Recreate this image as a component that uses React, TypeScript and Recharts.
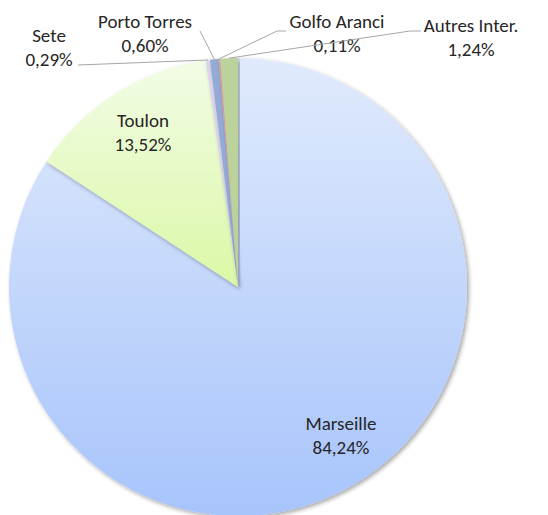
import React from 'react';
import { PieChart, Pie, Cell } from 'recharts';

// Port share of traffic (%)
const ports = ['Marseille', 'Toulon', 'Sete', 'Porto Torres', 'Golfo Aranci', 'Autres Inter.'];
const shares = [84.24, 13.52, 0.29, 0.6, 0.11, 1.24];

const fills = ['url(#gradMarseille)', 'url(#gradToulon)', '#ddd7ee', '#94abd6', '#e8999a', '#bcd29b'];

const data = ports.map((name, i) => ({ name, value: shares[i] }));

// label placement relative to the pie centre: two text lines, optional leader line
type LabelPos = { dx: number; dy: number; line?: [number, number][] };
const labelPos: Record<string, LabelPos> = {
  Marseille: { dx: 103, dy: 136 },
  Toulon: { dx: -95, dy: -167 },
  Sete: { dx: -189, dy: -252, line: [[-160, -222]] },
  'Porto Torres': { dx: -93, dy: -266, line: [[-38, -256]] },
  'Golfo Aranci': { dx: 99, dy: -266, line: [[48, -256], [39, -256]] },
  'Autres Inter.': { dx: 233, dy: -262, line: [[183, -256], [172, -256]] },
};

const RAD = Math.PI / 180;
const fmt = (v: number) => v.toFixed(2).replace('.', ',') + '%';

const renderLabel = (props: any) => {
  const { cx, cy, midAngle, outerRadius, name, value } = props;
  const pos = labelPos[name];
  if (!pos) return null;
  const x = cx + pos.dx;
  const y = cy + pos.dy;
  let line = null;
  if (pos.line) {
    const pts = pos.line.map(([a, b]) => [cx + a, cy + b]);
    const ex = cx + outerRadius * Math.cos(-midAngle * RAD);
    const ey = cy + outerRadius * Math.sin(-midAngle * RAD);
    pts.push([ex, ey]);
    line = (
      <polyline
        points={pts.map((p) => p.join(',')).join(' ')}
        fill="none"
        stroke="#a6a6a6"
        strokeWidth={1}
      />
    );
  }
  return (
    <g key={name}>
      {line}
      <text x={x} y={y} textAnchor="middle" dominantBaseline="central" fill="#262626" fontSize={19}>
        {name}
      </text>
      <text x={x} y={y + 24} textAnchor="middle" dominantBaseline="central" fill="#262626" fontSize={19}>
        {fmt(value)}
      </text>
    </g>
  );
};

export default function App() {
  return (
    <div style={{ position: 'absolute', left: 0, top: 0, width: 548, height: 515, background: '#fff', fontFamily: "Carlito, 'Open Sans', sans-serif" }}>
      <PieChart width={548} height={515} margin={{ top: 0, right: 0, bottom: 0, left: 0 }}>
        <defs>
          <linearGradient id="gradMarseille" x1="0" y1="0" x2="0" y2="1">
            <stop offset="0%" stopColor="#e0eafc" />
            <stop offset="100%" stopColor="#a7c4fb" />
          </linearGradient>
          <linearGradient id="gradToulon" x1="0" y1="0" x2="0" y2="1">
            <stop offset="0%" stopColor="#f2fce6" />
            <stop offset="100%" stopColor="#dbf8a6" />
          </linearGradient>
          <filter id="pieShadow" x="-10%" y="-10%" width="120%" height="120%">
            <feDropShadow dx="2" dy="2" stdDeviation="2" floodColor="#000" floodOpacity="0.35" />
          </filter>
        </defs>
        <Pie
          data={data}
          dataKey="value"
          nameKey="name"
          cx={238}
          cy={287}
          outerRadius={229}
          startAngle={90}
          endAngle={-270}
          stroke="none"
          label={renderLabel}
          labelLine={false}
          isAnimationActive={false}
          style={{ filter: 'url(#pieShadow)' }}
        >
          {data.map((entry, i) => (
            <Cell key={`cell-${i}`} fill={fills[i]} />
          ))}
        </Pie>
      </PieChart>
    </div>
  );
}
